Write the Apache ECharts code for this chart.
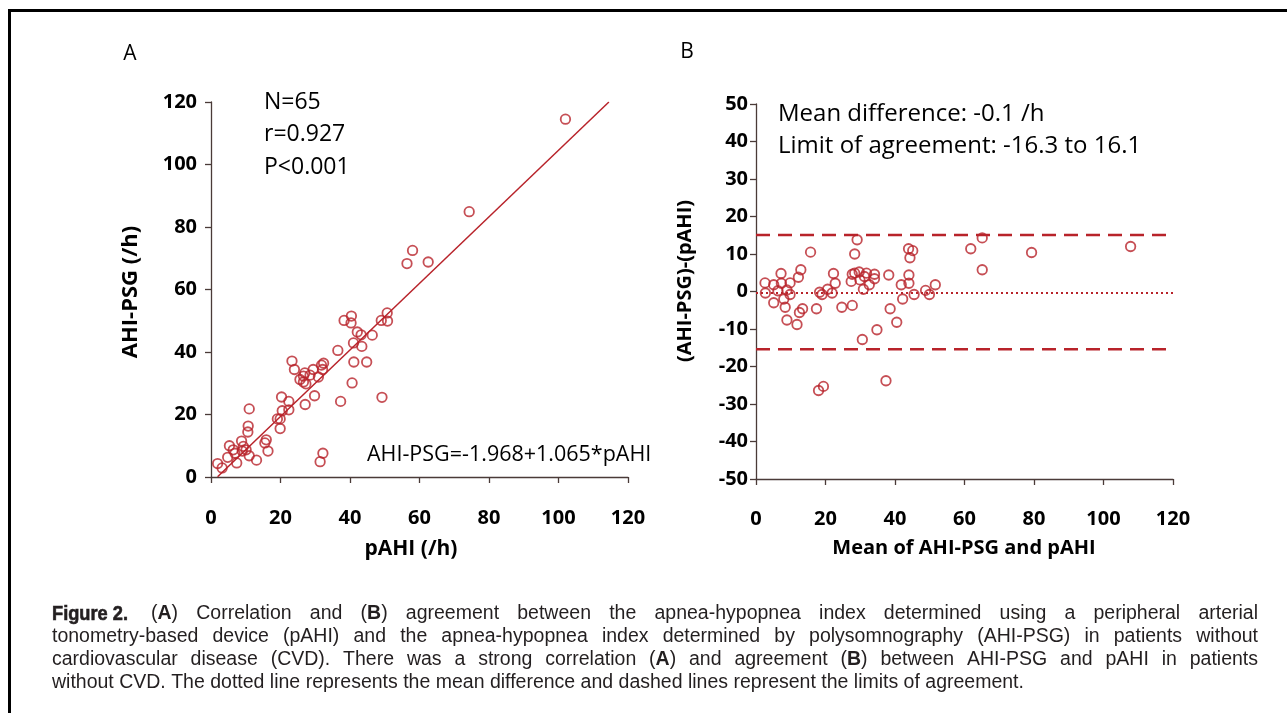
<!DOCTYPE html>
<html>
<head>
<meta charset="utf-8">
<script src="https://cdn.jsdelivr.net/npm/echarts@6/dist/echarts.min.js"></script>
<style>
  html, body { margin: 0; padding: 0; background: #fff; }
  #chart { width: 1287px; height: 713px; }
</style>
</head>
<body>
<div id="chart"></div>
<script>
const RED = '#b8232a'
const AXIS_COLOR = '#4a3b38'
const SANS = '"Open Sans", sans-serif'
const CAPTION_FONT = '"Liberation Sans", Arial, sans-serif'
const TEXT_COLOR = '#231f20'

// panel A: [pAHI, AHI-PSG]
const scatterA = [
  [102.0, 114.5], [74.3, 84.9], [58.0, 72.5], [56.4, 68.3], [62.5, 68.8],
  [50.7, 52.5], [49.0, 50.1], [50.8, 49.9], [40.4, 51.5], [38.3, 50.1],
  [40.3, 49.3], [42.1, 46.4], [43.2, 45.5], [46.4, 45.4], [41.0, 42.9],
  [43.4, 41.8], [36.5, 40.5], [41.1, 36.8], [44.8, 36.8], [40.6, 30.1],
  [49.2, 25.5], [37.3, 24.2], [23.3, 37.1], [24.0, 34.4], [32.4, 36.4],
  [31.8, 35.8], [32.1, 34.4], [29.4, 34.4], [27.0, 33.3], [28.5, 32.6],
  [26.6, 32.3], [25.6, 31.2], [26.6, 30.4], [27.3, 29.8], [30.9, 32.0],
  [29.8, 26.0], [27.1, 23.2], [20.3, 25.6], [22.4, 24.2], [22.4, 21.5],
  [20.5, 21.2], [19.1, 18.6], [19.9, 18.6], [19.9, 15.5], [11.0, 21.8],
  [10.7, 16.3], [10.6, 14.4], [15.9, 11.9], [15.5, 10.9], [16.4, 8.3],
  [8.8, 11.5], [5.3, 10.0], [6.4, 8.7], [9.3, 9.8], [10.1, 8.7],
  [9.0, 8.3], [4.8, 6.3], [7.4, 4.5], [11.0, 6.8], [13.1, 5.4],
  [1.9, 4.3], [3.2, 2.9], [32.2, 7.6], [31.4, 4.9], [6.9, 7.6]
]
// fitted line end points as drawn
const regressionLine = [[1.9, 0.1], [114.5, 120]]

// panel B: [mean of AHI-PSG and pAHI, difference]
const scatterB = [
  [107.8, 12.0], [79.3, 10.4], [61.8, 11.4], [65.1, 14.3], [65.1, 5.8],
  [29.1, 13.8], [28.4, 10.0], [15.7, 10.5], [43.9, 11.4], [45.1, 10.9],
  [44.3, 9.0], [7.2, 4.8], [12.9, 5.8], [12.2, 3.8], [2.6, 2.3],
  [5.1, 1.8], [7.3, 2.2], [9.8, 2.3], [6.3, 0.2], [8.9, 0.4],
  [2.7, -0.4], [9.8, -0.8], [8.0, -2.0], [5.1, -3.0], [8.4, -4.2],
  [13.4, -4.6], [12.5, -5.6], [8.9, -7.6], [11.8, -8.8], [17.4, -4.6],
  [18.3, -0.2], [19.0, -0.8], [20.6, 0.6], [21.9, -0.4], [22.8, 2.2],
  [22.3, 4.8], [24.7, -4.2], [27.7, -3.7], [27.7, 4.6], [28.4, 4.9],
  [29.7, 5.2], [31.8, 4.9], [34.1, 4.6], [34.1, 3.4], [27.4, 2.7],
  [29.9, 3.1], [31.2, 4.0], [32.6, 1.8], [30.9, 0.6], [30.6, -12.8],
  [34.8, -10.2], [38.2, 4.4], [38.6, -4.6], [40.5, -8.2], [42.2, -2.0],
  [41.8, 1.8], [44.0, 4.4], [44.0, 2.2], [45.5, -0.8], [48.8, 0.3],
  [49.9, -0.8], [51.6, 1.8], [18.0, -26.4], [19.4, -25.3], [37.4, -23.8]
]
// reference lines as drawn
const meanLine = [[0, -0.4], [120, -0.4]]
const upperLimitLine = [[0, 15.1], [120, 15.1]]
const lowerLimitLine = [[0, -15.4], [120, -15.4]]

const axisRangeA = { min: 0, max: 120, interval: 20 }
const axisRangeBx = { min: 0, max: 120, interval: 20 }
const axisRangeBy = { min: -50, max: 50, interval: 10 }

const statsA = ['N=65', 'r=0.927', 'P<0.001']
const equationA = 'AHI-PSG=-1.968+1.065*pAHI'
const statsB = ['Mean difference: -0.1 /h', 'Limit of agreement: -16.3 to 16.1']

const captionLead = 'Figure 2.'
const captionLines = [
  '(A) Correlation and (B) agreement between the apnea-hypopnea index determined using a peripheral arterial',
  'tonometry-based device (pAHI) and the apnea-hypopnea index determined by polysomnography (AHI-PSG) in patients without',
  'cardiovascular disease (CVD). There was a strong correlation (A) and agreement (B) between AHI-PSG and pAHI in patients',
  'without CVD. The dotted line represents the mean difference and dashed lines represent the limits of agreement.'
]

function valueAxis(gridIndex, range, labelMargin) {
  return {
    type: 'value',
    gridIndex,
    ...range,
    splitLine: { show: false },
    axisLine: { show: true, onZero: false, lineStyle: { color: AXIS_COLOR, width: 1.3 } },
    axisTick: { show: true, length: 6, lineStyle: { color: AXIS_COLOR, width: 1.3 } },
    axisLabel: {
      color: '#000',
      fontFamily: SANS,
      fontWeight: 'bold',
      fontSize: 20,
      margin: labelMargin,
      showMinLabel: true,
      showMaxLabel: true
    }
  }
}

function scatter(data, idx) {
  return {
    type: 'scatter',
    xAxisIndex: idx,
    yAxisIndex: idx,
    data,
    symbol: 'circle',
    symbolSize: 9.5,
    itemStyle: { color: 'rgba(0,0,0,0)', borderColor: RED, borderWidth: 1.8 },
    silent: true
  }
}

function refLine(data, idx, type, width) {
  return {
    type: 'line',
    xAxisIndex: idx,
    yAxisIndex: idx,
    data,
    symbol: 'none',
    silent: true,
    lineStyle: { color: RED, width, type }
  }
}

function label(text, x, y, opts, rotation) {
  return {
    type: 'text',
    x,
    y,
    rotation: rotation || 0,
    silent: true,
    style: Object.assign({
      text,
      fill: '#000',
      fontFamily: SANS,
      fontSize: 23,
      verticalAlign: 'middle'
    }, opts)
  }
}

// justified caption, word by word
function captionElements() {
  const size = 19.5
  const base = { fontFamily: CAPTION_FONT, fontSize: size, fill: TEXT_COLOR }
  const rich = { b: { fontFamily: CAPTION_FONT, fontSize: size, fontWeight: 'bold', fill: TEXT_COLOR } }
  const measure = text => new echarts.graphic.Text({ style: { ...base, rich, text } }).getBoundingRect().width
  const space = measure('x x') - measure('xx')
  const left = 52
  const right = 1258
  const top = 614
  const lineGap = 23
  const leadWidth = 76
  const leadStyle = { text: captionLead, fontFamily: CAPTION_FONT, fontSize: 20.5, fontWeight: 'bold', fill: TEXT_COLOR }
  const rawLead = new echarts.graphic.Text({ style: leadStyle }).getBoundingRect().width
  const els = [{
    type: 'text', x: left, y: top, scaleX: leadWidth / rawLead, silent: true,
    style: { ...leadStyle, verticalAlign: 'middle', stroke: TEXT_COLOR, lineWidth: 0.6 }
  }]
  captionLines.forEach((line, i) => {
    const words = line.split(' ').map(w => w.replace(/\(([AB])\)/, '({b|$1})'))
    const widths = words.map(measure)
    let x = i === 0 ? left + leadWidth + 23 : left
    const total = widths.reduce((a, b) => a + b, 0)
    const gap = i < captionLines.length - 1 ? (right - x - total) / (words.length - 1) : space
    words.forEach((w, j) => {
      els.push({ type: 'text', x, y: top + i * lineGap, silent: true, style: { ...base, rich, text: w, verticalAlign: 'middle' } })
      x += widths[j] + gap
    })
  })
  return els
}

const myChart = echarts.init(document.getElementById('chart'), null, { renderer: 'canvas' })

const option = {
  backgroundColor: '#fff',
  animation: false,
  grid: [
    { left: 211, top: 102, width: 417, height: 375 },
    { left: 756, top: 104, width: 417, height: 375 }
  ],
  xAxis: [
    valueAxis(0, axisRangeA, 31),
    valueAxis(1, axisRangeBx, 30)
  ],
  yAxis: [
    valueAxis(0, axisRangeA, 14),
    valueAxis(1, axisRangeBy, 8)
  ],
  series: [
    refLine(regressionLine, 0, 'solid', 1.5),
    scatter(scatterA, 0),
    refLine(upperLimitLine, 1, [14, 8], 2.5),
    refLine(lowerLimitLine, 1, [14, 8], 2.5),
    refLine(meanLine, 1, [2, 3], 2),
    scatter(scatterB, 1)
  ],
  graphic: [
    // frame
    { type: 'rect', silent: true, shape: { x: 8, y: 9, width: 1279, height: 3 }, style: { fill: '#000' } },
    { type: 'rect', silent: true, shape: { x: 8, y: 9, width: 3, height: 704 }, style: { fill: '#000' } },
    // panel letters
    label('A', 130, 54, { align: 'center', fontSize: 21 }),
    label('B', 687, 52, { align: 'center', fontSize: 21 }),
    // panel A notes
    ...statsA.map((t, i) => label(t, 264, 102 + i * 32.5)),
    label(equationA, 367, 455, { fontSize: 21.5 }),
    // panel B notes
    ...statsB.map((t, i) => label(t, 778, 114.5 + i * 32, { fontSize: 24 })),
    // axis titles
    label('AHI-PSG (/h)', 131, 292, { align: 'center', fontWeight: 'bold', fontSize: 22 }, Math.PI / 2),
    label('pAHI (/h)', 411, 549, { align: 'center', fontWeight: 'bold', fontSize: 21 }),
    label('(AHI-PSG)-(pAHI)', 685, 281, { align: 'center', fontWeight: 'bold', fontSize: 20 }, Math.PI / 2),
    label('Mean of AHI-PSG and pAHI', 964, 548, { align: 'center', fontWeight: 'bold', fontSize: 20 }),
    ...captionElements()
  ]
}

myChart.setOption(option)
</script>
</body>
</html>
